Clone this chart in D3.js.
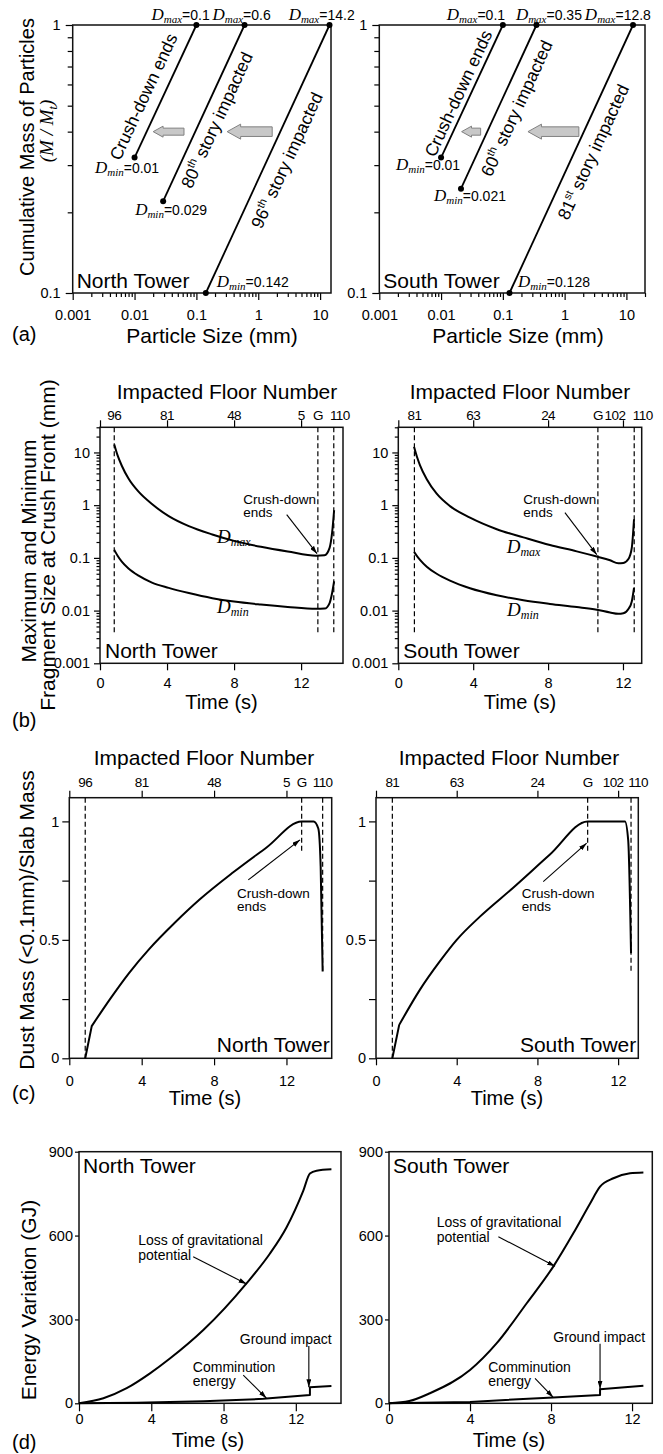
<!DOCTYPE html>
<html>
<head>
<meta charset="utf-8">
<script src="https://cdn.jsdelivr.net/npm/d3@7"></script>
<style>
  body { margin: 0; background: #fff; }
  svg { display: block; }
</style>
</head>
<body>
<svg id="fig" width="663" height="1454"></svg>
<script>
// ---------------- data ----------------
// (a) particle size distributions: [Dmin, Dmax] and cumulative mass at Dmin
const psdDminNorth = [0.01, 0.029, 0.142];
const psdDmaxNorth = [0.1, 0.6, 14.2];
const psdMminNorth = [0.32, 0.22, 0.1];
const psdNamesNorth = [["Crush-down ends"], ["80", "th", " story impacted"], ["96", "th", " story impacted"]];
const psdDminSouth = [0.01, 0.021, 0.128];
const psdDmaxSouth = [0.1, 0.35, 12.8];
const psdMminSouth = [0.32, 0.245, 0.1];
const psdNamesSouth = [["Crush-down ends"], ["60", "th", " story impacted"], ["81", "st", " story impacted"]];

// (b) max / min fragment size at crush front (mm)
const fragTimeNorth = [0.85, 1.05, 1.3, 1.7, 2.3, 3.1, 4.1, 5.3, 6.7, 8.0, 9.6, 11.2, 12.9, 13.4, 13.7, 13.85, 13.97];
const fragDmaxNorth = [14.2, 8.8, 5.6, 3.2, 1.8, 1.05, 0.62, 0.40, 0.278, 0.21, 0.162, 0.132, 0.11, 0.112, 0.155, 0.30, 0.8];
const fragDminNorth = [0.142, 0.11, 0.085, 0.063, 0.046, 0.034, 0.027, 0.0215, 0.0172, 0.0148, 0.013, 0.0117, 0.0108, 0.0109, 0.0139, 0.0215, 0.036];
const fragTimeSouth = [0.84, 1.0, 1.16, 1.52, 2.05, 2.76, 3.83, 5.26, 6.68, 8.1, 9.53, 10.6, 11.31, 11.75, 12.02, 12.29, 12.47, 12.59];
const fragDmaxSouth = [12.8, 8.2, 5.7, 3.1, 1.65, 0.96, 0.58, 0.35, 0.245, 0.175, 0.133, 0.106, 0.09, 0.079, 0.08, 0.095, 0.155, 0.54];
const fragDminSouth = [0.13, 0.108, 0.092, 0.068, 0.05, 0.037, 0.0265, 0.0195, 0.0157, 0.0134, 0.0117, 0.0104, 0.0092, 0.0087, 0.0089, 0.0107, 0.0149, 0.027];

// (c) dust mass (<0.1 mm) / slab mass
const dustTimeNorth = [0.88, 1.24, 2.25, 3.3, 4.4, 5.8, 7.2, 9.06, 10.9, 12.84, 13.5, 13.76, 13.89, 14.0];
const dustMassNorth = [0, 0.136, 0.25, 0.36, 0.46, 0.57, 0.67, 0.785, 0.89, 1.0, 1.0, 0.97, 0.81, 0.366];
const dustTimeSouth = [0.81, 1.15, 2.18, 3.17, 4.0, 5.15, 6.8, 8.62, 10.49, 12.34, 12.5, 12.64];
const dustMassSouth = [0, 0.141, 0.29, 0.41, 0.5, 0.598, 0.72, 0.86, 1.0, 1.0, 0.92, 0.444];

// (d) energy variation (GJ)
const gravTimeNorth = [0, 1.35, 2.64, 3.93, 5.03, 6.88, 9.27, 10.56, 11.49, 12.41, 12.78, 13.15, 13.97];
const gravNorth = [0, 18, 54, 107, 160, 262, 429, 535, 630, 760, 822, 832, 837];
const commTimeNorth = [0, 3.19, 6.88, 10.2, 12.78, 12.78, 13.97];
const commNorth = [0, 2, 7, 16, 30, 57, 62];
const gravTimeSouth = [0, 1.0, 2.02, 4.0, 5.32, 6.8, 8.11, 9.1, 9.93, 10.42, 11.08, 11.9, 12.56];
const gravSouth = [0, 8, 36, 119, 215, 358, 489, 608, 715, 775, 805, 823, 826];
const commTimeSouth = [0, 4.0, 8.11, 10.42, 10.42, 12.56];
const commSouth = [0, 5, 21, 30, 50, 63];

// impacted floor numbers on the top axes
const floorLabelsNorth = ["96", "81", "48", "5", "G", "110"];
const floorTimesNorthB = [0.85, 4, 8, 12, 13.0, 13.95];
const floorTimesNorthC = [0.88, 4, 8, 12, 12.84, 14.0];
const floorLabelsSouth = ["81", "63", "24", "G", "102", "110"];
const floorTimesSouthB = [0.86, 4, 8, 10.66, 12, 12.6];
const floorTimesSouthC = [0.81, 4, 8, 10.49, 12, 12.64];
const timeTicks = [0, 4, 8, 12];

// ---------------- layout ----------------
const SANS = "'Liberation Sans', Arial, Helvetica, sans-serif";
const SERIF = "'Liberation Serif', 'Times New Roman', serif";
const TICK_FS = 14.5;
const box = {
  aN: { left: 72.7, right: 331, top: 25, bottom: 293 },
  aS: { left: 379.3, right: 645, top: 25, bottom: 293 },
  bN: { left: 100, right: 343, top: 427.3, bottom: 663.3 },
  bS: { left: 398.3, right: 641.7, top: 427.3, bottom: 663.3 },
  cN: { left: 69.3, right: 331.7, top: 797.7, bottom: 1058.3 },
  cS: { left: 376, right: 638.3, top: 797.7, bottom: 1058.3 },
  dN: { left: 79, right: 341, top: 1151.7, bottom: 1403.3 },
  dS: { left: 389, right: 652.3, top: 1151.7, bottom: 1403.3 }
};

const svg = d3.select("#fig");
svg.append("rect").attr("width", 663).attr("height", 1454).attr("fill", "#fff");
svg.append("defs").append("marker")
  .attr("id", "ah").attr("viewBox", "0 0 10 6").attr("refX", 10).attr("refY", 3)
  .attr("markerWidth", 8).attr("markerHeight", 5).attr("markerUnits", "userSpaceOnUse")
  .attr("orient", "auto")
  .append("path").attr("d", "M0,0L10,3L0,6Z").attr("fill", "#000");

// ---------------- helpers ----------------
function addText(g, x, y, parts, o = {}) {
  const t = g.append("text").attr("x", x).attr("y", y)
    .attr("font-family", o.ff || SANS).attr("font-size", o.fs || 14)
    .attr("text-anchor", o.anchor || "start").attr("fill", "#000");
  if (o.italic) t.attr("font-style", "italic");
  if (o.dy) t.attr("dy", o.dy);
  if (o.ls) t.attr("letter-spacing", o.ls);
  if (o.rotate != null) t.attr("transform", `rotate(${o.rotate},${x},${y})`);
  const list = typeof parts === "string" ? [{ s: parts }] : parts;
  let prev = 0;
  list.forEach(p => {
    const b = p.b || 0;
    const ts = t.append("tspan").text(p.s);
    if (b !== prev) ts.attr("dy", b - prev);
    prev = b;
    if (p.ff) ts.attr("font-family", p.ff);
    if (p.fs) ts.attr("font-size", p.fs);
    if (p.italic) ts.attr("font-style", "italic");
  });
  return t;
}

function axisG(g, gen, tr, fs) {
  const a = g.append("g").attr("transform", tr).call(gen);
  a.select(".domain").remove();
  a.attr("font-family", SANS).attr("font-size", fs || TICK_FS);
  a.selectAll(".tick line").attr("stroke", "#000").attr("stroke-width", 1.2);
  a.selectAll(".tick text").attr("fill", "#000");
  return a;
}

function logMinor(scale) {
  return scale.ticks().filter(d => {
    const e = Math.log10(d);
    return Math.abs(e - Math.round(e)) > 1e-6;
  });
}

function frame(g, L) {
  g.append("rect").attr("x", L.left).attr("y", L.top)
    .attr("width", L.right - L.left).attr("height", L.bottom - L.top)
    .attr("fill", "none").attr("stroke", "#111").attr("stroke-width", 1.5);
}

function arrow(g, x1, y1, x2, y2) {
  g.append("line").attr("x1", x1).attr("y1", y1).attr("x2", x2).attr("y2", y2)
    .attr("stroke", "#000").attr("stroke-width", 1.1).attr("marker-end", "url(#ah)");
}

function curvePath(g, d) {
  g.append("path").attr("d", d).attr("fill", "none").attr("stroke", "#000")
    .attr("stroke-width", 2).attr("stroke-linejoin", "round");
}

function yTitle(x, y, s, fs, extra) {
  return addText(svg, x, y, s, Object.assign({ fs: fs || 21, anchor: "middle", rotate: -90 }, extra || {}));
}

const dSub = (name, v, big, small, num) => [
  { s: "D", ff: SERIF, fs: big, italic: true },
  { s: name, ff: SERIF, fs: small, italic: true, b: 3 },
  { s: v, fs: num, b: 0 }
];

// ---------------- (a) ----------------
function drawPSD(c) {
  const L = c.box;
  const x = d3.scaleLog().domain([0.001, c.xMax]).range([L.left, L.right]);
  const y = d3.scaleLog().domain([0.1, 1]).range([L.bottom, L.top]);
  const g = svg.append("g");
  axisG(g, d3.axisBottom(x).tickValues(logMinor(x)).tickSize(4).tickFormat(""), `translate(0,${L.bottom})`);
  axisG(g, d3.axisBottom(x).tickValues([0.001, 0.01, 0.1, 1, 10]).tickSize(7).tickPadding(10)
    .tickFormat(d => String(d)), `translate(0,${L.bottom})`);
  axisG(g, d3.axisLeft(y).tickValues(logMinor(y)).tickSize(5).tickFormat(""), `translate(${L.left},0)`);
  axisG(g, d3.axisLeft(y).tickValues([0.1, 1]).tickSize(7).tickPadding(5)
    .tickFormat(d => String(d)), `translate(${L.left},0)`);
  frame(g, L);

  const line = d3.line().x(d => x(d[0])).y(d => y(d[1]));
  c.dmin.forEach((dm, i) => {
    const pts = [[dm, c.mmin[i]], [c.dmax[i], 1]];
    g.append("path").attr("d", line(pts)).attr("fill", "none").attr("stroke", "#000").attr("stroke-width", 1.8);
    pts.forEach(p => g.append("circle").attr("cx", x(p[0])).attr("cy", y(p[1])).attr("r", 3).attr("fill", "#000"));

    const ang = Math.atan2(y(1) - y(c.mmin[i]), x(c.dmax[i]) - x(dm)) * 180 / Math.PI;
    const n = c.names[i];
    const parts = n.length === 1 ? [{ s: n[0] }]
      : [{ s: n[0] }, { s: n[1], fs: 11, b: -7 }, { s: n[2], b: 0 }];
    addText(g, x(c.nameAt[i][0]), y(c.nameAt[i][1]), parts,
      { fs: 17.5, anchor: "middle", dy: "0.35em", rotate: ang });

    addText(g, x(c.dmaxLabelAt[i]), L.top - 5, dSub("max", "=" + c.dmax[i], 17, 11, 14), { anchor: "middle" });
    const off = c.dminLabelOff[i];
    addText(g, x(dm) + off[0], y(c.mmin[i]) + off[1], dSub("min", "=" + dm, 17, 11, 14), { anchor: "middle" });
  });

  // grey shift arrows
  c.shiftArrows.forEach(a => {
    const xt = x(a[0]), xh = x(a[1]), yc = y(0.4), H = a[2];
    const hl = H * 0.9, bh = H * 0.32, hh = H / 2;
    const p = d3.path();
    p.moveTo(xh, yc); p.lineTo(xh + hl, yc - hh); p.lineTo(xh + hl, yc - bh);
    p.lineTo(xt, yc - bh); p.lineTo(xt, yc + bh); p.lineTo(xh + hl, yc + bh);
    p.lineTo(xh + hl, yc + hh); p.closePath();
    g.append("path").attr("d", p.toString()).attr("fill", "#c8c8c8").attr("stroke", "#808080").attr("stroke-width", 1);
  });

  addText(g, L.left + 4, L.bottom - 5, c.tower, { fs: 21 });
  addText(svg, c.xTitleX, 343, "Particle Size (mm)", { fs: 21, anchor: "middle" });
}

drawPSD({
  box: box.aN, xMax: 15, dmin: psdDminNorth, dmax: psdDmaxNorth, mmin: psdMminNorth, names: psdNamesNorth,
  nameAt: [[0.0139, 0.54], [0.214, 0.442], [2.9, 0.313]],
  dmaxLabelAt: [0.0555, 0.537, 10.6],
  dminLabelOff: [[-7.5, 15.5], [8, 14], [47, -6]],
  shiftArrows: [[0.063, 0.02, 11], [1.68, 0.314, 15]],
  tower: "North Tower", xTitleX: 212
});
drawPSD({
  box: box.aS, xMax: 20, dmin: psdDminSouth, dmax: psdDmaxSouth, mmin: psdMminSouth, names: psdNamesSouth,
  nameAt: [[0.019, 0.556], [0.167, 0.489], [2.9, 0.336]],
  dmaxLabelAt: [0.0367, 0.557, 7.28],
  dminLabelOff: [[-13, 12.5], [9, 12], [44.5, -6]],
  shiftArrows: [[0.0437, 0.0215, 11], [1.7, 0.255, 15]],
  tower: "South Tower", xTitleX: 518
});
yTitle(34, 147, "Cumulative Mass of Particles", 20);
yTitle(53, 131, [{ s: "(M / M" }, { s: "t", fs: 12, b: 4 }, { s: ")", b: 0 }], 19, { ff: SERIF, italic: true });
addText(svg, 12, 341, "(a)", { fs: 20 });

// ---------------- top floor axis (b, c) ----------------
function floorAxis(g, x, L, times, labels, dxs, labelY, titleX, titleY) {
  axisG(g, d3.axisTop(x).tickValues(timeTicks).tickSize(7).tickFormat(""), `translate(0,${L.top})`);
  labels.forEach((s, i) => addText(g, x(times[i]) + dxs[i], labelY, s,
    { fs: 13.5, anchor: "middle", ls: -0.6 }));
  addText(g, titleX, titleY, "Impacted Floor Number", { fs: 21, anchor: "middle" });
}

function dashed(g, xp, yTop, yBot) {
  g.append("line").attr("x1", xp).attr("x2", xp).attr("y1", yTop).attr("y2", yBot)
    .attr("stroke", "#000").attr("stroke-width", 1.2).attr("stroke-dasharray", "5,3");
}

// ---------------- (b) ----------------
function drawFrag(c) {
  const L = c.box;
  const x = d3.scaleLinear().domain([0, c.tMax]).range([L.left, L.right]);
  const y = d3.scaleLog().domain([0.001, 30]).range([L.bottom, L.top]);
  const g = svg.append("g");
  axisG(g, d3.axisLeft(y).tickValues(logMinor(y)).tickSize(3.5).tickFormat(""), `translate(${L.left},0)`);
  axisG(g, d3.axisLeft(y).tickValues([0.001, 0.01, 0.1, 1, 10]).tickSize(6).tickPadding(4)
    .tickFormat(d => String(d)), `translate(${L.left},0)`);
  axisG(g, d3.axisBottom(x).tickValues(timeTicks).tickSize(7).tickPadding(7).tickFormat(d3.format("d")),
    `translate(0,${L.bottom})`);
  floorAxis(g, x, L, c.floorT, c.floorL, c.floorDx, 420, c.titleX, 399);
  frame(g, L);
  c.dashIdx.forEach(i => dashed(g, x(c.floorT[i]), L.top, y(0.0038)));

  const line = d3.line().curve(d3.curveMonotoneX).x(d => x(d[0])).y(d => y(d[1]));
  [c.dmax, c.dmin].forEach(vals => curvePath(g, line(c.time.map((t, i) => [t, vals[i]]))));
  addText(g, x(c.dmaxAt[0]), y(c.dmaxAt[1]), dSub("max", "", 19, 12, 12));
  addText(g, x(c.dminAt[0]), y(c.dminAt[1]), dSub("min", "", 19, 12, 12));

  const a = c.note;
  addText(g, x(a.text[0]), y(a.text[1]) - 1.5, "Crush-down", { fs: 13.5 });
  addText(g, x(a.text[0]), y(a.text[1]) + 11.5, "ends", { fs: 13.5 });
  arrow(g, x(a.from[0]), y(a.from[1]), x(a.to[0]), y(a.to[1]));

  addText(g, L.left + 5, L.bottom - 5, c.tower, { fs: 21 });
  addText(svg, (L.left + L.right) / 2, 709, "Time (s)", { fs: 20, anchor: "middle" });
}

drawFrag({
  box: box.bN, tMax: 14.5, time: fragTimeNorth, dmax: fragDmaxNorth, dmin: fragDminNorth,
  floorT: floorTimesNorthB, floorL: floorLabelsNorth, floorDx: [0, 0, 0, 0, 0, 6], dashIdx: [0, 4, 5],
  dmaxAt: [6.98, 0.195], dminAt: [6.98, 0.0091],
  note: { text: [8.55, 0.97], from: [11.14, 0.66], to: [12.95, 0.12] },
  tower: "North Tower", titleX: 227
});
drawFrag({
  box: box.bS, tMax: 13, time: fragTimeSouth, dmax: fragDmaxSouth, dmin: fragDminSouth,
  floorT: floorTimesSouthB, floorL: floorLabelsSouth, floorDx: [0, 0, 0, 0, -8, 8.5], dashIdx: [0, 3, 5],
  dmaxAt: [5.79, 0.126], dminAt: [5.81, 0.0078],
  note: { text: [6.68, 0.97], from: [8.9, 0.72], to: [10.6, 0.115] },
  tower: "South Tower", titleX: 520
});
yTitle(36, 551, "Maximum and Minimum", 21);
yTitle(55, 545, "Fragment Size at Crush Front (mm)", 21);
addText(svg, 12, 727, "(b)", { fs: 20 });

// ---------------- (c) ----------------
function drawDust(c) {
  const L = c.box;
  const x = d3.scaleLinear().domain([0, c.tMax]).range([L.left, L.right]);
  const y = d3.scaleLinear().domain([0, 1.1]).range([L.bottom, L.top]);
  const g = svg.append("g");
  axisG(g, d3.axisLeft(y).tickValues([0, 0.25, 0.5, 0.75, 1]).tickSize(7).tickPadding(3)
    .tickFormat(d => (d === 0.25 || d === 0.75) ? "" : String(d)), `translate(${L.left},0)`);
  axisG(g, d3.axisBottom(x).tickValues(timeTicks).tickSize(7).tickPadding(10).tickFormat(d3.format("d")),
    `translate(0,${L.bottom})`);
  floorAxis(g, x, L, c.floorT, c.floorL, c.floorDx, 787, c.titleX, 765);
  frame(g, L);
  c.dashIdx.forEach((i, k) => dashed(g, x(c.floorT[i]), L.top, y(c.dashEnd[k])));

  // straight initial rise, then a smooth build-up
  const pts = c.time.map((t, i) => [t, c.mass[i]]);
  const straight = d3.line().x(d => x(d[0])).y(d => y(d[1]));
  const smooth = d3.line().curve(d3.curveMonotoneX).x(d => x(d[0])).y(d => y(d[1]));
  curvePath(g, straight(pts.slice(0, 2)) + smooth(pts.slice(1)).replace(/^M[^A-Za-z]*/, "L" + x(pts[1][0]) + "," + y(pts[1][1])));

  const a = c.note;
  addText(g, x(a.text[0]), y(a.text[1]), "Crush-down", { fs: 13.5 });
  addText(g, x(a.text[0]), y(a.text[1]) + 13, "ends", { fs: 13.5 });
  arrow(g, x(a.from[0]), y(a.from[1]), x(a.to[0]), y(a.to[1]));

  addText(g, L.right - 2, L.bottom - 6, c.tower, { fs: 21, anchor: "end" });
  addText(svg, c.xTitleX, 1105, "Time (s)", { fs: 20, anchor: "middle" });
}

drawDust({
  box: box.cN, tMax: 14.5, time: dustTimeNorth, mass: dustMassNorth,
  floorT: floorTimesNorthC, floorL: floorLabelsNorth, floorDx: [0, 0, 0, 0, 0, 0],
  dashIdx: [0, 4, 5], dashEnd: [0, 0.87, 0.37],
  note: { text: [9.27, 0.678], from: [9.89, 0.753], to: [12.75, 0.922] },
  tower: "North Tower", titleX: 204, xTitleX: 205
});
drawDust({
  box: box.cS, tMax: 13, time: dustTimeSouth, mass: dustMassSouth,
  floorT: floorTimesSouthC, floorL: floorLabelsSouth, floorDx: [0, 0, 0, 0, -5, 7], dashIdx: [0, 3, 5],
  dashEnd: [0, 0.87, 0.37],
  note: { text: [7.22, 0.678], from: [8.29, 0.746], to: [10.44, 0.908] },
  tower: "South Tower", titleX: 509, xTitleX: 507
});
yTitle(34, 920, "Dust Mass (<0.1mm)/Slab Mass", 21);
addText(svg, 12, 1100, "(c)", { fs: 20 });

// ---------------- (d) ----------------
function drawEnergy(c) {
  const L = c.box;
  const x = d3.scaleLinear().domain([0, c.tMax]).range([L.left, L.right]);
  const y = d3.scaleLinear().domain([0, 900]).range([L.bottom, L.top]);
  const g = svg.append("g");
  axisG(g, d3.axisLeft(y).tickValues([0, 300, 600, 900]).tickSize(4).tickPadding(2).tickFormat(d3.format("d")),
    `translate(${L.left},0)`);
  axisG(g, d3.axisBottom(x).tickValues(timeTicks).tickSize(8).tickPadding(2).tickFormat(d3.format("d")),
    `translate(0,${L.bottom})`);
  frame(g, L);

  const smooth = d3.line().curve(d3.curveMonotoneX).x(d => x(d[0])).y(d => y(d[1]));
  const straight = d3.line().x(d => x(d[0])).y(d => y(d[1]));
  curvePath(g, smooth(c.gravT.map((t, i) => [t, c.grav[i]])));
  curvePath(g, straight(c.commT.map((t, i) => [t, c.comm[i]])));

  const n = c.notes;
  addText(g, x(n.grav[0]), y(n.grav[1]), "Loss of gravitational", { fs: 14 });
  addText(g, x(n.grav[0]), y(n.grav[1]) + 15, "potential", { fs: 14 });
  arrow(g, x(n.gravArrow[0]), y(n.gravArrow[1]), x(n.gravArrow[2]), y(n.gravArrow[3]));
  addText(g, x(n.ground[0]), y(n.ground[1]), "Ground impact", { fs: 14 });
  arrow(g, x(n.groundArrow[0]), y(n.groundArrow[1]), x(n.groundArrow[0]), y(n.groundArrow[2]));
  addText(g, x(n.comm[0]), y(n.comm[1]), "Comminution", { fs: 14 });
  addText(g, x(n.comm[0]), y(n.comm[1]) + 14.5, "energy", { fs: 14 });
  arrow(g, x(n.commArrow[0]), y(n.commArrow[1]), x(n.commArrow[2]), y(n.commArrow[3]));

  addText(g, L.left + 4, L.top + 21.5, c.tower, { fs: 21 });
  addText(svg, c.xTitleX, 1447, "Time (s)", { fs: 20, anchor: "middle" });
}

drawEnergy({
  box: box.dN, tMax: 14.5, gravT: gravTimeNorth, grav: gravNorth, commT: commTimeNorth, comm: commNorth,
  notes: {
    grav: [3.28, 565], gravArrow: [6.32, 524, 9.28, 427],
    ground: [8.9, 212], groundArrow: [12.72, 205, 57],
    comm: [6.3, 113], commArrow: [9.09, 101, 10.38, 18]
  },
  tower: "North Tower", xTitleX: 208
});
drawEnergy({
  box: box.dS, tMax: 13, gravT: gravTimeSouth, grav: gravSouth, commT: commTimeSouth, comm: commSouth,
  notes: {
    grav: [2.36, 629], gravArrow: [5.4, 596, 8.2, 490],
    ground: [8.11, 220], groundArrow: [10.42, 213, 51],
    comm: [4.9, 113], commArrow: [7.21, 89, 8.11, 21]
  },
  tower: "South Tower", xTitleX: 509
});
yTitle(36, 1300, "Energy Variation (GJ)", 21);
addText(svg, 12, 1449, "(d)", { fs: 20 });
</script>
</body>
</html>
